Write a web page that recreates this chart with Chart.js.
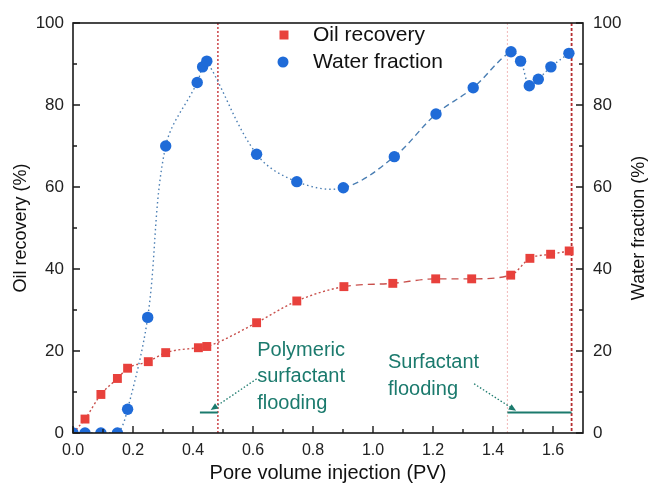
<!DOCTYPE html>
<html>
<head>
<meta charset="utf-8">
<script src="https://cdn.jsdelivr.net/npm/chart.js@4.4.1/dist/chart.umd.min.js"></script>
<style>
  html, body { margin: 0; padding: 0; background: #ffffff; }
  #c { display: block; }
</style>
</head>
<body>
<canvas id="c" width="649" height="485"></canvas>
<script>
// Oil recovery vs injected pore volume
const oilPV = [0, 0.04, 0.093, 0.148, 0.182, 0.251, 0.309, 0.418, 0.446, 0.612, 0.746, 0.903, 1.066, 1.209, 1.329, 1.459, 1.523, 1.592, 1.654];
const oilRecovery = [0, 3.4, 9.4, 13.3, 15.8, 17.4, 19.6, 20.8, 21.1, 26.9, 32.2, 35.7, 36.5, 37.6, 37.6, 38.5, 42.6, 43.6, 44.4];

// Water fraction vs injected pore volume
const waterPV = [0, 0.04, 0.093, 0.148, 0.182, 0.249, 0.309, 0.414, 0.432, 0.446, 0.612, 0.746, 0.901, 1.071, 1.21, 1.334, 1.46, 1.492, 1.521, 1.551, 1.593, 1.653];
const waterFraction = [0, 0, 0, 0, 5.8, 28.2, 70, 85.5, 89.3, 90.7, 68, 61.3, 59.8, 67.4, 77.8, 84.2, 93, 90.7, 84.7, 86.3, 89.3, 92.6];

// Axis ticks
const xTicks = [0, 0.2, 0.4, 0.6, 0.8, 1.0, 1.2, 1.4, 1.6];
const xMinorTicks = [0.1, 0.3, 0.5, 0.7, 0.9, 1.1, 1.3, 1.5];
const yTicks = [0, 20, 40, 60, 80, 100];
const yMinorTicks = [10, 30, 50, 70, 90];

// Flooding stage boundaries (PV): polymeric surfactant start, surfactant start, end
const stageBounds = [0.483, 1.448, 1.662];
// Stage bars at the bottom: [from, to, level]
const stageBars = [[0.423, 0.483, 5], [1.448, 1.662, 5]];
// Stage labels
const polyLabel = ['Polymeric', 'surfactant', 'flooding'];
const surfLabel = ['Surfactant', 'flooding'];
// Annotation arrows: [x0, y0, x1, y1] in data units
const stageArrows = [[0.612, 13.2, 0.459, 5.6], [1.337, 12.0, 1.477, 5.4]];

const FONT = '"Liberation Sans", Arial, Helvetica, sans-serif';
const RED = '#e8413c';
const BLUE = '#1f6bd8';
const TEAL = '#1b7a6d';

const toXY = (xs, ys) => xs.map((x, i) => ({ x: x, y: ys[i] }));

const stagePlugin = {
  id: 'stages',
  beforeDatasetsDraw(chart) {
    const { ctx, chartArea: a, scales } = chart;
    const x = scales.x, y = scales.y;
    ctx.save();
    // stage boundaries
    const styles = [
      { c: '#c7353a', w: 1.4, d: [2, 2] },
      { c: '#f1b9b9', w: 1.0, d: [2, 2] },
      { c: '#b52d30', w: 1.8, d: [3, 2] }
    ];
    stageBounds.forEach((v, i) => {
      const px = x.getPixelForValue(v);
      ctx.strokeStyle = styles[i].c;
      ctx.lineWidth = styles[i].w;
      ctx.setLineDash(styles[i].d);
      ctx.beginPath();
      ctx.moveTo(px, a.top);
      ctx.lineTo(px, a.bottom);
      ctx.stroke();
    });
    ctx.setLineDash([]);
    // stage bars
    ctx.strokeStyle = TEAL;
    ctx.lineWidth = 2;
    stageBars.forEach(b => {
      const py = y.getPixelForValue(b[2]);
      ctx.beginPath();
      ctx.moveTo(x.getPixelForValue(b[0]), py);
      ctx.lineTo(x.getPixelForValue(b[1]), py);
      ctx.stroke();
    });
    // arrows
    stageArrows.forEach(ar => {
      const x0 = x.getPixelForValue(ar[0]), y0 = y.getPixelForValue(ar[1]);
      const x1 = x.getPixelForValue(ar[2]), y1 = y.getPixelForValue(ar[3]);
      const ang = Math.atan2(y1 - y0, x1 - x0);
      const head = 8;
      ctx.strokeStyle = TEAL;
      ctx.lineWidth = 1.3;
      ctx.setLineDash([1.5, 2]);
      ctx.beginPath();
      ctx.moveTo(x0, y0);
      ctx.lineTo(x1 - Math.cos(ang) * head * 0.6, y1 - Math.sin(ang) * head * 0.6);
      ctx.stroke();
      ctx.setLineDash([]);
      ctx.fillStyle = TEAL;
      ctx.beginPath();
      ctx.moveTo(x1, y1);
      ctx.lineTo(x1 - Math.cos(ang - 0.4) * head, y1 - Math.sin(ang - 0.4) * head);
      ctx.lineTo(x1 - Math.cos(ang + 0.4) * head, y1 - Math.sin(ang + 0.4) * head);
      ctx.closePath();
      ctx.fill();
    });
    // stage labels
    ctx.fillStyle = TEAL;
    ctx.font = '20px ' + FONT;
    ctx.textAlign = 'left';
    ctx.textBaseline = 'middle';
    const polyX = x.getPixelForValue(0.614);
    const polyY = y.getPixelForValue(20.2);
    polyLabel.forEach((t, i) => ctx.fillText(t, polyX, polyY + i * 26.5));
    const surfX = x.getPixelForValue(1.05);
    const surfY = y.getPixelForValue(17.1);
    surfLabel.forEach((t, i) => ctx.fillText(t, surfX, surfY + i * 27));
    ctx.restore();
  }
};

const framePlugin = {
  id: 'frame',
  afterDraw(chart) {
    const { ctx, chartArea: a, scales } = chart;
    ctx.save();
    ctx.strokeStyle = '#1a1a1a';
    ctx.lineWidth = 1.6;
    ctx.strokeRect(a.left, a.top, a.right - a.left, a.bottom - a.top);
    ctx.lineWidth = 1.4;
    ctx.beginPath();
    // x ticks pointing inward from the bottom axis
    xTicks.forEach(v => { const p = scales.x.getPixelForValue(v); ctx.moveTo(p, a.bottom); ctx.lineTo(p, a.bottom - 7); });
    xMinorTicks.forEach(v => { const p = scales.x.getPixelForValue(v); ctx.moveTo(p, a.bottom); ctx.lineTo(p, a.bottom - 4); });
    // y ticks pointing inward from both side axes
    yTicks.forEach(v => {
      const p = scales.y.getPixelForValue(v);
      ctx.moveTo(a.left, p); ctx.lineTo(a.left + 7, p);
      ctx.moveTo(a.right, p); ctx.lineTo(a.right - 7, p);
    });
    yMinorTicks.forEach(v => {
      const p = scales.y.getPixelForValue(v);
      ctx.moveTo(a.left, p); ctx.lineTo(a.left + 4, p);
      ctx.moveTo(a.right, p); ctx.lineTo(a.right - 4, p);
    });
    ctx.stroke();

    // right axis title, reading bottom to top
    ctx.fillStyle = '#111';
    ctx.font = '18px ' + FONT;
    ctx.textAlign = 'center';
    ctx.textBaseline = 'middle';
    ctx.translate(639, (a.top + a.bottom) / 2);
    ctx.rotate(-Math.PI / 2);
    ctx.fillText('Water fraction (%)', 0, 0);
    ctx.restore();

    // legend
    ctx.save();
    const ds = chart.data.datasets;
    const lx = a.left + 211, ly = a.top + 12;
    ctx.font = '21px ' + FONT;
    ctx.textAlign = 'left';
    ctx.textBaseline = 'middle';
    ds.forEach((d, i) => {
      const cy = ly + i * 27;
      ctx.fillStyle = d.pointBackgroundColor;
      ctx.beginPath();
      if (d.pointStyle === 'rect') {
        ctx.rect(lx - 4.5, cy - 4.5, 9, 9);
      } else {
        ctx.arc(lx - 1, cy, 5.5, 0, Math.PI * 2);
      }
      ctx.fill();
      ctx.fillStyle = '#111';
      ctx.fillText(d.label, lx + 29, cy);
    });
    ctx.restore();
  }
};

new Chart(document.getElementById('c'), {
  type: 'line',
  data: {
    datasets: [
      {
        label: 'Oil recovery',
        data: toXY(oilPV, oilRecovery),
        yAxisID: 'y',
        borderColor: '#c9504c',
        borderWidth: 1.4,
        borderDash: [2, 2.5],
        cubicInterpolationMode: 'monotone',
        pointStyle: 'rect',
        pointRadius: 6.3,
        pointBackgroundColor: RED,
        pointBorderColor: RED,
        pointBorderWidth: 0,
        clip: 0,
        order: 1,
        segment: {
          borderDash: c => (c.p0.parsed.x >= 0.9 && c.p0.parsed.x < 1.45) ? [7, 5] : undefined
        }
      },
      {
        label: 'Water fraction',
        data: toXY(waterPV, waterFraction),
        yAxisID: 'y1',
        borderColor: '#4a7eb3',
        borderWidth: 1.4,
        borderDash: [1.5, 3],
        tension: 0.35,
        pointStyle: 'circle',
        pointRadius: 5.7,
        pointBackgroundColor: BLUE,
        pointBorderColor: BLUE,
        pointBorderWidth: 0,
        clip: 0,
        order: 0,
        segment: {
          borderDash: c => (c.p0.parsed.x >= 0.9 && c.p0.parsed.x < 1.45) ? [6, 4] : undefined
        }
      }
    ]
  },
  options: {
    responsive: false,
    animation: false,
    devicePixelRatio: 1,
    layout: { padding: { top: 23, left: 0, right: 0, bottom: 0 } },
    plugins: { legend: { display: false }, tooltip: { enabled: false } },
    scales: {
      x: {
        type: 'linear',
        min: 0,
        max: 1.7,
        afterBuildTicks: s => { s.ticks = xTicks.map(v => ({ value: v })); },
        afterFit: s => { s.height = 52; },
        grid: { display: false, drawTicks: false },
        border: { display: false },
        ticks: {
          padding: 8,
          color: '#222',
          font: { family: FONT, size: 16 },
          maxRotation: 0,
          autoSkip: false,
          callback: v => Number(v).toFixed(1)
        },
        title: {
          display: true,
          text: 'Pore volume injection (PV)',
          color: '#111',
          font: { family: FONT, size: 20 },
          padding: { top: 0, bottom: 0 }
        }
      },
      y: {
        type: 'linear',
        position: 'left',
        min: 0,
        max: 100,
        afterBuildTicks: s => { s.ticks = yTicks.map(v => ({ value: v })); },
        afterFit: s => { s.width = 73; },
        grid: { display: false, drawTicks: false },
        border: { display: false },
        ticks: { padding: 9, color: '#222', font: { family: FONT, size: 17 } },
        title: {
          display: true,
          text: 'Oil recovery (%)',
          color: '#111',
          font: { family: FONT, size: 18 },
          padding: { top: 10, bottom: 0 }
        }
      },
      y1: {
        type: 'linear',
        position: 'right',
        min: 0,
        max: 100,
        afterBuildTicks: s => { s.ticks = yTicks.map(v => ({ value: v })); },
        afterFit: s => { s.width = 66; },
        grid: { display: false, drawTicks: false },
        border: { display: false },
        ticks: { padding: 10, color: '#222', font: { family: FONT, size: 17 } },
        title: { display: false }
      }
    }
  },
  plugins: [stagePlugin, framePlugin]
});
</script>
</body>
</html>
